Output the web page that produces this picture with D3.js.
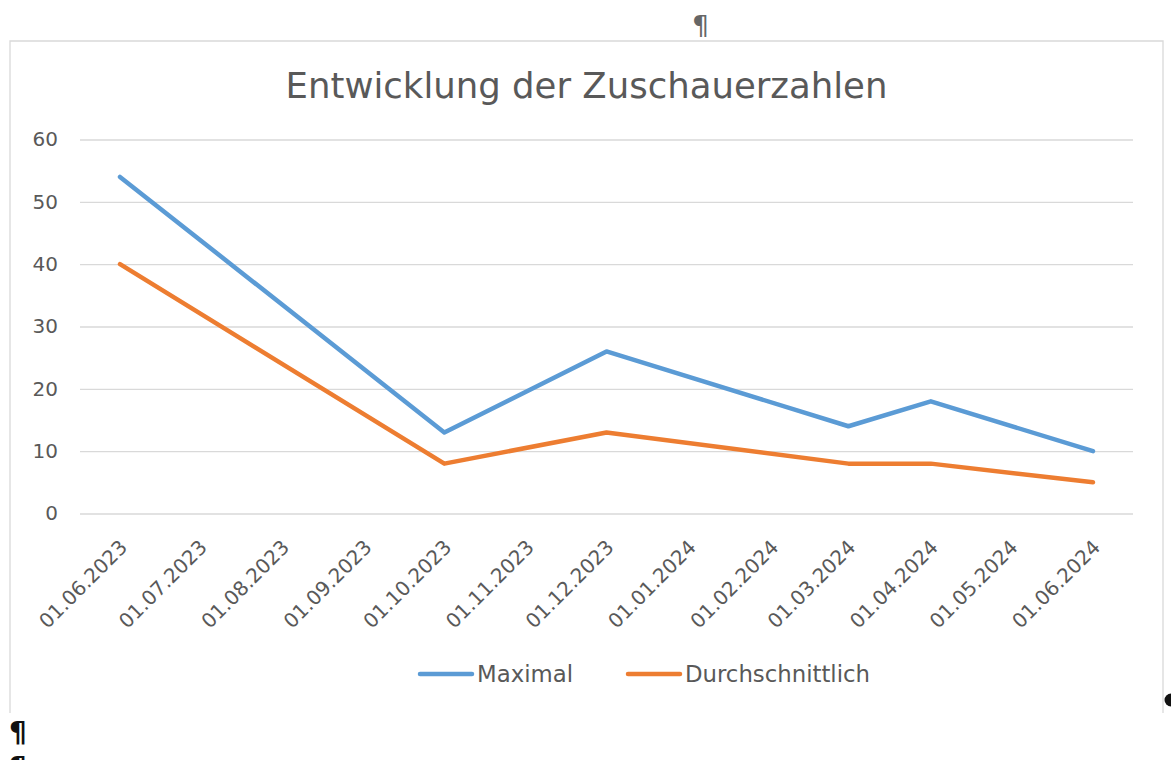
<!DOCTYPE html>
<html>
<head>
<meta charset="utf-8">
<script src="https://cdn.jsdelivr.net/npm/d3@7"></script>
<style>
  html, body { margin: 0; padding: 0; background: #ffffff; }
  svg { display: block; }
  text { font-family: "DejaVu Sans", "Liberation Sans", sans-serif; }
</style>
</head>
<body>
<svg id="chart" width="1171" height="760"></svg>
<script>
// ---- data ----
const title = "Entwicklung der Zuschauerzahlen";
const dates = ["2023-06-01", "2023-10-01", "2023-12-01", "2024-03-01", "2024-04-01", "2024-06-01"];
const maximal = [54, 13, 26, 14, 18, 10];
const durchschnittlich = [40, 8, 13, 8, 8, 5];
const seriesNames = ["Maximal", "Durchschnittlich"];
const seriesColors = ["#5B9BD5", "#ED7D31"];
const yTicks = [0, 10, 20, 30, 40, 50, 60];
const tickStart = "2023-06-01";
const tickEnd = "2024-06-01";

// ---- layout ----
const svg = d3.select("#chart");
const parse = d3.timeParse("%Y-%m-%d");
const fmt = d3.timeFormat("%d.%m.%Y");

const frame = { left: 10, top: 41, right: 1163, bottom: 713 };
const plot = { left: 80, right: 1133, top: 139.5, bottom: 513.5 };

const x = d3.scaleTime()
  .domain([parse(tickStart), parse(tickEnd)])
  .range([120, 1093]);
const y = d3.scaleLinear().domain([0, 60]).range([plot.bottom, plot.top]);

// chart frame (top, left, right edges visible)
svg.append("path")
  .attr("d", `M${frame.left},${frame.bottom} V${frame.top} H${frame.right} V${frame.bottom}`)
  .attr("fill", "none").attr("stroke", "#d9d9d9").attr("stroke-width", 1.3);

// Word paragraph marks
svg.append("text").attr("x", 692).attr("y", 35).attr("font-size", 27)
  .attr("fill", "#666").text("¶");
svg.append("text").attr("x", 9).attr("y", 742).attr("font-size", 28)
  .attr("font-weight", "bold").attr("fill", "#111").text("¶");
svg.append("text").attr("x", 9).attr("y", 777).attr("font-size", 28)
  .attr("font-weight", "bold").attr("fill", "#111").text("¶");
svg.append("circle").attr("cx", 1171).attr("cy", 700).attr("r", 6.5).attr("fill", "#111");

// title
svg.append("text")
  .attr("x", (plot.left + plot.right) / 2 - 20).attr("y", 98)
  .attr("text-anchor", "middle")
  .attr("font-size", 35.5).attr("fill", "#595959")
  .text(title);

// gridlines
const yAxis = d3.axisLeft(y).tickValues(yTicks).tickSize(-(plot.right - plot.left)).tickPadding(22);
const gy = svg.append("g").attr("transform", `translate(${plot.left},0)`).call(yAxis);
gy.select(".domain").remove();
gy.selectAll(".tick line").attr("stroke", "#d9d9d9").attr("stroke-width", 1.3);
gy.selectAll(".tick text").attr("font-size", 20).attr("fill", "#595959")
  .attr("font-family", "DejaVu Sans, sans-serif");

// x axis labels (monthly)
const months = d3.timeMonth.range(parse(tickStart), d3.timeDay.offset(parse(tickEnd), 1));
const xAxis = d3.axisBottom(x).tickValues(months).tickFormat(fmt).tickSize(0);
const gx = svg.append("g").attr("transform", `translate(0,${plot.bottom})`).call(xAxis);
gx.select(".domain").remove();
gx.selectAll(".tick text")
  .attr("font-size", 20).attr("fill", "#595959")
  .attr("font-family", "DejaVu Sans, sans-serif")
  .attr("text-anchor", "end")
  .attr("y", 0).attr("dy", "0.35em")
  .attr("transform", "translate(3,30) rotate(-45)");

// lines
const allSeries = [maximal, durchschnittlich];
const line = d3.line()
  .x((d, i) => x(parse(dates[i])))
  .y(d => y(d));
allSeries.forEach((s, k) => {
  svg.append("path").datum(s)
    .attr("d", line)
    .attr("fill", "none")
    .attr("stroke", seriesColors[k])
    .attr("stroke-width", 4.5)
    .attr("stroke-linejoin", "round")
    .attr("stroke-linecap", "round");
});

// legend
const legendItems = [
  { name: seriesNames[0], color: seriesColors[0], x0: 420 },
  { name: seriesNames[1], color: seriesColors[1], x0: 628 }
];
legendItems.forEach(it => {
  svg.append("line")
    .attr("x1", it.x0).attr("x2", it.x0 + 52)
    .attr("y1", 674).attr("y2", 674)
    .attr("stroke", it.color).attr("stroke-width", 4.5).attr("stroke-linecap", "round");
  svg.append("text")
    .attr("x", it.x0 + 57).attr("y", 682)
    .attr("font-size", 22.8).attr("fill", "#595959")
    .text(it.name);
});
</script>
</body>
</html>
